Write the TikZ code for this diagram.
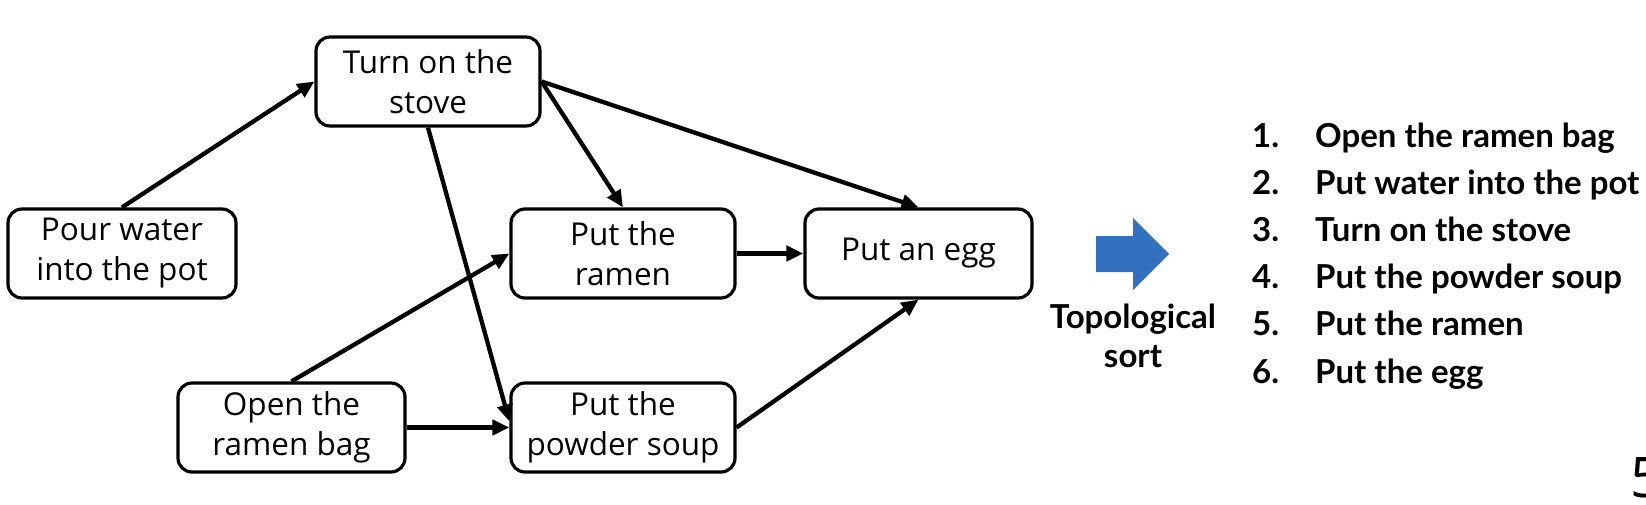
\documentclass[tikz,border=0pt]{standalone}
\usepackage{fontspec}
\setmainfont{Open Sans}
\newfontfamily\listfont{Lato}
\usetikzlibrary{arrows.meta}
\definecolor{arrowblue}{RGB}{50,112,192}
\begin{document}
\begin{tikzpicture}[x=1pt,y=-1pt,
  box/.style={draw, line width=3.2pt, rounded corners=14pt, minimum width=224pt,
    minimum height=89pt, inner sep=0pt, align=center,
    font=\fontsize{31.5}{40}\selectfont},
  conn/.style={line width=4.3pt, -{Triangle[length=17pt,width=15pt]}},
  listtext/.style={anchor=base west, inner sep=0pt, font=\listfont\bfseries\fontsize{33}{36}\selectfont},
  topotext/.style={anchor=base, inner sep=0pt, font=\listfont\bfseries\fontsize{33}{36}\selectfont}]
\useasboundingbox (0,0) rectangle (1646,504);
\clip (0,0) rectangle (1646,504);

\node[box, minimum width=228pt] (pour) at (122,253.5) {Pour water\\into the pot};
\node[box] (stove) at (428,81.5) {Turn on the\\stove};
\node[box] (ramen) at (623,253.5) {Put the\\ramen};
\node[box, minimum width=227pt] (egg) at (918.5,253.5) {Put an egg};
\node[box, minimum width=227pt] (bag) at (291.5,427.5) {Open the\\ramen bag};
\node[box] (soup) at (623,427.5) {Put the\\powder soup};

\draw[conn] (pour.north) -- (stove.west);
\draw[conn] (stove.east) -- (ramen.north);
\draw[conn] (stove.east) -- (egg.north);
\draw[conn] (stove.south) -- ([yshift=6pt]soup.west);
\draw[conn] (bag.north) -- (ramen.west);
\draw[conn] (bag.east) -- (soup.west);
\draw[conn] (ramen.east) -- (egg.west);
\draw[conn] (soup.east) -- (egg.south);

\fill[arrowblue] (1096,236) -- (1133,236) -- (1133,218) -- (1169,254)
  -- (1133,290) -- (1133,272) -- (1096,272) -- cycle;

\node[topotext] (topo1) at (1133,328) {Topological};
\node[topotext] (topo2) at (1133,367) {sort};

\foreach \i/\t [count=\k] in {1/Open the ramen bag, 2/Put water into the pot,
  3/Turn on the stove, 4/Put the powder soup, 5/Put the ramen, 6/Put the egg}{
  \node[listtext] (num\k) at (1252,{147+47.2*(\k-1)}) {\i.};
  \node[listtext] (item\k) at (1315,{147+47.2*(\k-1)}) {\t};
}

\node[anchor=base west, inner sep=0pt, font=\fontsize{56}{60}\selectfont] (page) at (1630,497) {5};
\end{tikzpicture}
\end{document}
